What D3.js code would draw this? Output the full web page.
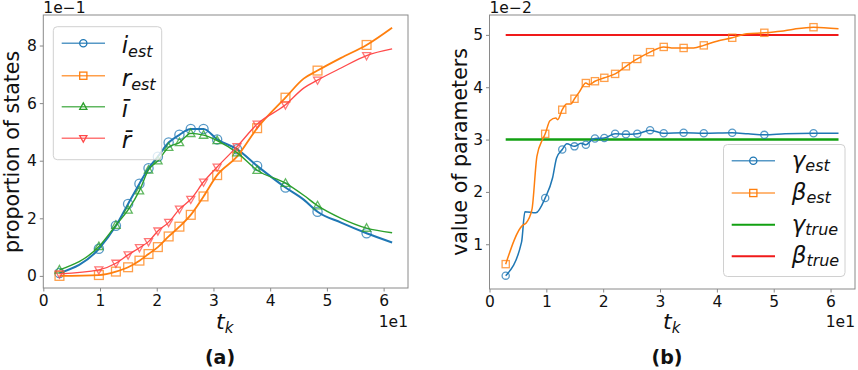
<!DOCTYPE html>
<html><head><meta charset="utf-8">
<script src="https://cdn.jsdelivr.net/npm/d3@7"></script>
<style>body{margin:0;background:#fff} text{font-family:"DejaVu Sans",sans-serif;fill:#111}</style>
</head><body><svg id="c" width="858" height="370"></svg>
<script>
// ---------- data ----------
// sampling times (markers), shared by both panels
const tk = [2.85, 9.8, 12.8, 14.95, 16.95, 18.55, 20.2, 22.1, 24.0, 26.0, 28.25, 30.65, 34.15, 37.7, 42.7, 48.35, 57.0];
// panel (a): marker values
const iEst = [0.010, 0.094, 0.174, 0.250, 0.320, 0.374, 0.414, 0.463, 0.490, 0.510, 0.510, 0.474, 0.440, 0.382, 0.307, 0.223, 0.148];
const rEst = [0.000, 0.003, 0.015, 0.030, 0.053, 0.076, 0.100, 0.137, 0.171, 0.212, 0.276, 0.350, 0.414, 0.513, 0.619, 0.713, 0.802];
const iBar = [0.021, 0.102, 0.176, 0.229, 0.296, 0.368, 0.400, 0.447, 0.463, 0.495, 0.489, 0.470, 0.428, 0.367, 0.322, 0.244, 0.166];
const rBar = [0.007, 0.021, 0.044, 0.073, 0.098, 0.119, 0.156, 0.186, 0.232, 0.266, 0.326, 0.378, 0.449, 0.527, 0.594, 0.680, 0.765];
// panel (a): extra line points between/after markers
const tExtraA = [45.9, 52.5, 61.5];
const iEstExtra = [0.265, 0.185, 0.116];
const rEstExtra = [0.685, 0.757, 0.862];
const iBarExtra = [0.280, 0.200, 0.150];
const rBarExtra = [0.652, 0.722, 0.788];
// panel (b): marker values (x 1e-2)
const gammaEst = [0.40, 1.885, 2.81, 2.87, 2.90, 3.02, 3.03, 3.11, 3.10, 3.11, 3.18, 3.12, 3.13, 3.12, 3.13, 3.09, 3.12];
const betaEst  = [0.62, 3.11, 3.57, 3.78, 4.08, 4.115, 4.18, 4.255, 4.40, 4.54, 4.67, 4.77, 4.75, 4.80, 4.945, 5.04, 5.147];
// panel (b): extra line points
const tExtraG = [5.64, 6.23, 8.16, 11.1, 11.8, 13.6, 16.1, 17.85, 45.5, 52.0, 61.4];
const gammaExtra = [1.04, 1.62, 1.60, 2.27, 2.65, 2.92, 2.93, 2.98, 3.11, 3.11, 3.12];
const tExtraB = [5.81, 6.4, 7.46, 8.34, 9.33, 10.63, 11.68, 11.98, 13.56, 14.33, 15.8, 17.55, 32.4, 35.9, 40.0, 45.3, 51.2, 53.5, 61.4];
const betaExtra = [1.36, 1.40, 1.66, 2.68, 3.00, 3.36, 3.41, 3.38, 3.68, 3.68, 3.91, 4.05, 4.75, 4.75, 4.88, 5.02, 5.07, 5.11, 5.116];
const gammaTrue = 3.0, betaTrue = 5.0;
const xTicks = [0, 10, 20, 30, 40, 50, 60];
const yTicksA = [0, 0.2, 0.4, 0.6, 0.8];
const yTicksB = [1, 2, 3, 4, 5];

// ---------- helpers ----------
const svg = d3.select("#c");
const C = {blue:"#1f77b4", orange:"#ff7f0e", green:"#2ca02c", red:"#ff4a4a", gTrue:"#12a012", bTrue:"#f01a1a"};
function merge(ts, vs, te, ve){
  const a = ts.map((t,i)=>({t, v:vs[i], m:true})).concat(te.map((t,i)=>({t, v:ve[i], m:false})));
  return a.sort((p,q)=>p.t-q.t);
}
function marker(g, type, x, y, s, color, op){
  if(type==="o") g.append("circle").attr("cx",x).attr("cy",y).attr("r",s).attr("fill","none").attr("stroke",color).attr("stroke-width",1.3).attr("opacity",op);
  else if(type==="s") g.append("rect").attr("x",x-s).attr("y",y-s).attr("width",2*s).attr("height",2*s).attr("fill","none").attr("stroke",color).attr("stroke-width",1.3).attr("opacity",op);
  else if(type==="^") g.append("path").attr("d",`M${x},${y-s*1.05}L${x+s},${y+s*0.75}L${x-s},${y+s*0.75}Z`).attr("fill","none").attr("stroke",color).attr("stroke-width",1.3).attr("opacity",op);
  else if(type==="v") g.append("path").attr("d",`M${x},${y+s*1.05}L${x+s},${y-s*0.75}L${x-s},${y-s*0.75}Z`).attr("fill","none").attr("stroke",color).attr("stroke-width",1.3).attr("opacity",op);
}
function axes(x, y, xT, yT, yFmt, exp, xLabelX){
  const [x0,x1] = x.range(), [y0,y1] = y.range();
  const gx = svg.append("g").attr("transform",`translate(0,${y0})`)
    .call(d3.axisBottom(x).tickValues(xT).tickFormat(d=>d/10).tickSize(3.5).tickPadding(3));
  const gy = svg.append("g").attr("transform",`translate(${x0},0)`)
    .call(d3.axisLeft(y).tickValues(yT).tickFormat(yFmt).tickSize(3.5).tickPadding(3));
  [gx,gy].forEach(g=>{ g.select(".domain").remove(); g.selectAll("line").attr("stroke","#888");
    g.selectAll("text").attr("font-size",15.5).attr("font-family","DejaVu Sans").attr("fill","#111"); });
  svg.append("rect").attr("x",x0).attr("y",y1).attr("width",x1-x0).attr("height",y0-y1)
    .attr("fill","none").attr("stroke","#8a8a8a").attr("stroke-width",1);
  svg.append("text").attr("x",x1).attr("y",327).attr("text-anchor","end").attr("font-size",15.5).text("1e1");
  svg.append("text").attr("x",x0).attr("y",13).attr("font-size",15.5).text(exp);
  const t = svg.append("text").attr("x",xLabelX).attr("y",329).attr("font-size",22);
  t.append("tspan").attr("font-style","italic").text("t");
  t.append("tspan").attr("font-style","italic").attr("font-size",15).attr("dy",4).text("k");
}

// ---------- panel (a) ----------
const xa = d3.scaleLinear([0,64.3],[43.3,408]);
const ya = d3.scaleLinear([-0.042,0.906],[288,15]);
axes(xa, ya, xTicks, yTicksA, d=>Math.round(d*10), "1e\u22121", 216);
svg.append("text").attr("transform","translate(19,152) rotate(-90)").attr("text-anchor","middle").attr("font-size",20.5).text("proportion of states");
svg.append("text").attr("x",220).attr("y",364).attr("text-anchor","middle").attr("font-size",19).attr("font-weight","bold").text("(a)");

const lineA = d3.line().x(d=>xa(d.t)).y(d=>ya(d.v)).curve(d3.curveMonotoneX);
const seriesA = [
  {vals:iEst, ex:iEstExtra, color:C.blue, w:2, m:"o", s:4.6},
  {vals:rEst, ex:rEstExtra, color:C.orange, w:1.8, m:"s", s:4.4},
  {vals:iBar, ex:iBarExtra, color:C.green, w:1.4, m:"^", s:4.2},
  {vals:rBar, ex:rBarExtra, color:C.red, w:1.3, m:"v", s:4.0}
];
const ga = svg.append("g");
seriesA.forEach(s=>{
  const pts = merge(tk, s.vals, tExtraA, s.ex);
  ga.append("path").attr("d",lineA(pts)).attr("fill","none").attr("stroke",s.color).attr("stroke-width",s.w);
  pts.filter(p=>p.m).forEach(p=>marker(ga, s.m, xa(p.t), ya(p.v), s.s, s.color, 0.75));
});
// legend (a)
const la = svg.append("g");
la.append("rect").attr("x",53.3).attr("y",26.7).attr("width",108.4).attr("height",133).attr("rx",4)
  .attr("fill","white").attr("fill-opacity",0.8).attr("stroke","#d0d0d0");
const legA = [
  {y:43.3, c:C.blue, m:"o", main:"i", sub:"est"},
  {y:75.7, c:C.orange, m:"s", main:"r", sub:"est"},
  {y:106.7, c:C.green, m:"^", main:"\u012B", sub:""},
  {y:138.3, c:C.red, m:"v", main:"r\u0304", sub:""}
];
legA.forEach(e=>{
  la.append("line").attr("x1",61.7).attr("x2",105).attr("y1",e.y).attr("y2",e.y).attr("stroke",e.c).attr("stroke-width",1.5).attr("opacity",0.75);
  marker(la, e.m, 83.3, e.y, 3.6, e.c, 1);
  const t = la.append("text").attr("x",121.7).attr("y",e.y+10).attr("font-size",23);
  t.append("tspan").attr("font-style","italic").text(e.main);
  if(e.sub) t.append("tspan").attr("font-style","italic").attr("font-size",16).attr("dy",4).text(e.sub);
});

// ---------- panel (b) ----------
const xb = d3.scaleLinear([0,64.3],[489.5,855]);
const yb = d3.scaleLinear([0.145,5.38],[289,15]);
axes(xb, yb, xTicks, yTicksB, d=>d, "1e\u22122", 663);
svg.append("text").attr("transform","translate(467,152) rotate(-90)").attr("text-anchor","middle").attr("font-size",20.5).text("value of parameters");
svg.append("text").attr("x",667).attr("y",364).attr("text-anchor","middle").attr("font-size",19).attr("font-weight","bold").text("(b)");

const gb = svg.append("g");
const tMin = d3.min(tk), tMax = 61.4;
gb.append("line").attr("x1",xb(tMin)).attr("x2",xb(tMax)).attr("y1",yb(gammaTrue)).attr("y2",yb(gammaTrue)).attr("stroke",C.gTrue).attr("stroke-width",2.5);
gb.append("line").attr("x1",xb(tMin)).attr("x2",xb(tMax)).attr("y1",yb(betaTrue)).attr("y2",yb(betaTrue)).attr("stroke",C.bTrue).attr("stroke-width",2);
const lineB = d3.line().x(d=>xb(d.t)).y(d=>yb(d.v)).curve(d3.curveMonotoneX);
[{vals:gammaEst, te:tExtraG, ex:gammaExtra, c:C.blue, m:"o"},
 {vals:betaEst, te:tExtraB, ex:betaExtra, c:C.orange, m:"s"}].forEach(s=>{
  const pts = merge(tk, s.vals, s.te, s.ex);
  gb.append("path").attr("d",lineB(pts)).attr("fill","none").attr("stroke",s.c).attr("stroke-width",1.5);
  pts.filter(p=>p.m).forEach(p=>marker(gb, s.m, xb(p.t), yb(p.v), 3.6, s.c, 0.75));
});
// legend (b)
const lb = svg.append("g");
lb.append("rect").attr("x",723.5).attr("y",144.5).attr("width",121.5).attr("height",132).attr("rx",4)
  .attr("fill","white").attr("fill-opacity",0.8).attr("stroke","#d0d0d0");
const legB = [
  {y:160.7, c:C.blue, m:"o", main:"\u03B3", sub:"est", w:1.5},
  {y:193, c:C.orange, m:"s", main:"\u03B2", sub:"est", w:1.5},
  {y:224.7, c:C.gTrue, m:null, main:"\u03B3", sub:"true", w:2},
  {y:256.3, c:C.bTrue, m:null, main:"\u03B2", sub:"true", w:2}
];
legB.forEach(e=>{
  lb.append("line").attr("x1",731.7).attr("x2",775).attr("y1",e.y).attr("y2",e.y).attr("stroke",e.c).attr("stroke-width",e.w).attr("opacity",e.m?0.75:1);
  if(e.m) marker(lb, e.m, 753.3, e.y, 3.6, e.c, 1);
  const t = lb.append("text").attr("x",791.7).attr("y",e.y+7).attr("font-size",23);
  t.append("tspan").attr("font-style","italic").text(e.main);
  t.append("tspan").attr("font-style","italic").attr("font-size",16).attr("dy",3).text(e.sub);
});
</script></body></html>
